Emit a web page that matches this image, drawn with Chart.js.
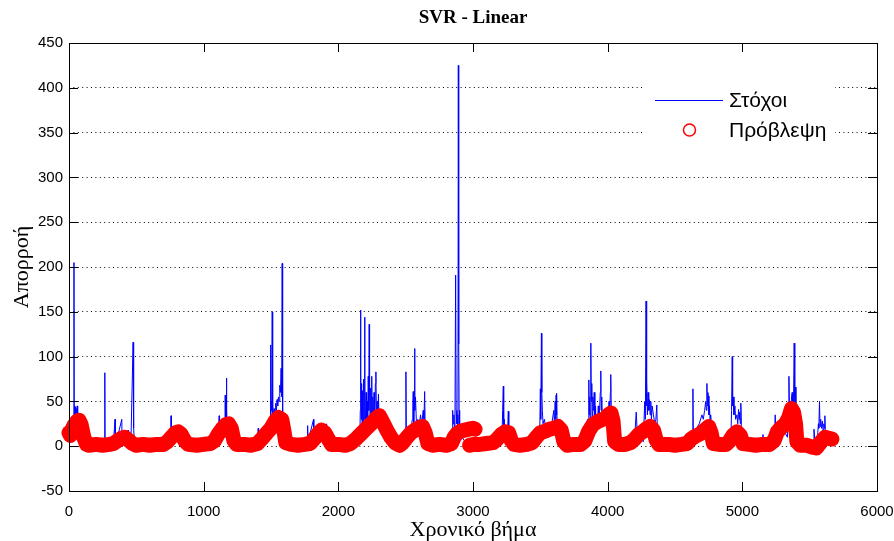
<!DOCTYPE html>
<html>
<head>
<meta charset="utf-8">
<title>SVR - Linear</title>
<script src="https://cdn.jsdelivr.net/npm/chart.js@4.4.1/dist/chart.umd.min.js"></script>
<style>
    html, body { margin: 0; padding: 0; background: #fff; }
</style>
</head>
<body>
<canvas id="svrChart" width="894" height="541"></canvas>
<script>
// tick labels
const xTicks = [0, 1000, 2000, 3000, 4000, 5000, 6000];
const yTicks = [-50, 0, 50, 100, 150, 200, 250, 300, 350, 400, 450];

// Στόχοι (targets), spikes and baseline
const targetX = [0, 20, 35, 37, 39, 41, 43, 45, 47, 49, 51, 53, 55, 57, 59, 61, 63, 66, 69, 72, 75, 78, 82, 86, 90, 95, 100, 130, 200,
    264, 266, 268, 330, 342, 344, 360, 392, 394, 420, 439, 441, 460, 476, 478, 482, 486, 560, 700, 757, 758, 760, 800, 830, 900,
    1050, 1110, 1115, 1118, 1150, 1155, 1158, 1160, 1163, 1166, 1168, 1170, 1173, 1176, 1180, 1190, 1200, 1230, 1400, 1405, 1408, 1460,
    1495, 1497, 1499, 1502, 1505, 1509, 1511, 1514, 1520, 1525, 1530, 1535, 1540, 1545, 1550, 1555, 1560, 1565, 1570, 1575, 1578, 1581, 1583, 1585, 1588, 1592, 1600, 1620,
    1770, 1772, 1775, 1816, 1818, 1900, 1913, 1920, 1950,
    2160, 2163, 2165, 2167, 2170, 2173, 2176, 2180, 2184, 2188, 2192, 2195, 2198, 2202, 2206, 2210, 2214, 2218, 2222, 2226, 2229, 2232, 2236, 2240, 2244, 2248, 2252, 2256, 2260, 2265, 2270, 2275, 2279, 2283, 2288, 2293, 2298, 2303, 2308, 2315, 2322, 2330, 2340, 2350, 2400,
    2498, 2502, 2505, 2520, 2540, 2550, 2553, 2556, 2560, 2563, 2566, 2569, 2573, 2580, 2590, 2600, 2610, 2620, 2630, 2636, 2641, 2645, 2650, 2660, 2800,
    2840, 2845, 2849, 2853, 2858, 2862, 2866, 2871, 2875, 2880, 2885, 2888, 2891, 2894, 2897, 2901, 2910, 2920, 2940, 3000,
    3200, 3215, 3220, 3225, 3228, 3232, 3240, 3250, 3258, 3262, 3266, 3275, 3300, 3480,
    3495, 3500, 3503, 3508, 3511, 3515, 3520, 3530, 3540, 3560, 3580, 3600, 3605, 3610, 3614, 3617, 3620, 3622, 3625, 3630, 3645, 3660, 3800,
    3845, 3850, 3855, 3860, 3863, 3866, 3870, 3875, 3878, 3882, 3886, 3890, 3895, 3900, 3905, 3910, 3915, 3920, 3925, 3930, 3935, 3940, 3945, 3949, 3952, 3956, 3960, 3970, 3980, 3990, 4000, 4005, 4010, 4015, 4020, 4023, 4027, 4032, 4040, 4060,
    4200, 4212, 4220, 4265, 4275, 4280, 4285, 4288, 4291, 4295, 4300, 4305, 4310, 4315, 4320, 4325, 4330, 4340, 4350, 4358, 4365, 4370, 4380, 4600,
    4630, 4633, 4636, 4650, 4660, 4680, 4700, 4710, 4720, 4728, 4733, 4737, 4740, 4744, 4748, 4752, 4756, 4760, 4765, 4775, 4900,
    4915, 4920, 4925, 4928, 4932, 4938, 4945, 4950, 4960, 4966, 4972, 4976, 4980, 4985, 4989, 4993, 5000, 5010,
    5150, 5153, 5160, 5240, 5244, 5250, 5300,
    5335, 5340, 5346, 5350, 5355, 5360, 5365, 5370, 5375, 5380, 5385, 5388, 5391, 5395, 5398, 5402, 5410, 5420, 5530, 5532, 5540,
    5555, 5560, 5565, 5568, 5573, 5577, 5582, 5588, 5595, 5600, 5605, 5610, 5613, 5617, 5625, 5640, 5660];
const targetY = [8, 5, 10, 205, 12, 45, 20, 40, 15, 44, 25, 38, 18, 42, 22, 45, 30, 40, 20, 35, 15, 30, 12, 25, 10, 8, 5, 3, 2,
    3, 82, 3, 4, 30, 6, 10, 30, 8, 12, 18, 8, 6, 116, 37, 20, 5, 2, 3, 5, 34, 6, 14, 8, 2,
    3, 10, 34, 12, 15, 30, 10, 57, 20, 45, 76, 25, 40, 15, 30, 10, 15, 3, 4, 20, 5, 10,
    30, 113, 35, 50, 40, 150, 30, 45, 35, 42, 38, 48, 40, 52, 45, 55, 50, 68, 60, 87, 55, 70, 204, 40, 35, 20, 8, 5,
    3, 23, 5, 30, 10, 20, 25, 10, 4,
    10, 40, 152, 85, 30, 70, 25, 62, 20, 75, 30, 144, 55, 25, 60, 20, 50, 30, 78, 40, 136, 60, 30, 65, 35, 78, 30, 55, 25, 60, 30, 70, 83, 35, 50, 30, 58, 25, 40, 20, 30, 15, 10, 5, 3,
    5, 83, 8, 15, 20, 30, 45, 61, 25, 50, 109, 40, 55, 25, 30, 20, 35, 25, 40, 30, 61, 20, 10, 5, 3,
    5, 20, 40, 25, 35, 20, 30, 191, 40, 25, 35, 20, 425, 114, 40, 25, 15, 10, 5, 2,
    3, 5, 40, 67, 20, 30, 10, 15, 20, 39, 10, 3, 2, 5,
    8, 64, 30, 126, 60, 40, 25, 30, 20, 15, 20, 40, 25, 50, 30, 57, 35, 59, 20, 30, 10, 5, 3,
    5, 30, 20, 74, 35, 55, 30, 115, 50, 70, 30, 55, 40, 60, 25, 45, 20, 35, 25, 45, 30, 40, 60, 84, 40, 55, 30, 35, 25, 30, 40, 30, 50, 35, 60, 80, 40, 30, 15, 5,
    8, 38, 15, 5, 50, 30, 162, 45, 73, 35, 60, 40, 52, 35, 50, 30, 45, 35, 25, 30, 46, 10, 3, 4,
    5, 64, 10, 15, 20, 25, 35, 30, 40, 50, 40, 70, 45, 60, 56, 35, 45, 30, 35, 8, 4,
    5, 40, 100, 45, 55, 35, 45, 30, 35, 25, 41, 30, 38, 25, 48, 20, 10, 3,
    3, 13, 3, 10, 35, 8, 20,
    10, 30, 78, 40, 50, 35, 55, 60, 40, 50, 115, 45, 55, 66, 30, 25, 10, 3, 5, 19, 5,
    5, 15, 25, 20, 50, 22, 30, 20, 28, 15, 25, 20, 34, 12, 8, 6, 5];

// Πρόβλεψη (prediction) - null marks the break near step 3000
const predX = [0, 10, 20, 40, 60, 75, 90, 110, 130, 150, 200, 250, 300, 330, 360, 390, 414, 440, 470, 500, 550, 600, 650, 700, 730, 760, 790, 810, 830, 860, 885, 950,
    1000, 1050, 1080, 1110, 1140, 1165, 1185, 1205, 1225, 1245, 1300, 1350, 1400, 1430, 1470, 1500, 1530, 1555, 1580, 1595, 1610, 1650, 1700, 1750, 1790, 1820, 1850, 1875, 1900, 1925, 1950,
    2000, 2050, 2090, 2130, 2170, 2210, 2250, 2280, 2305, 2330, 2360, 2390, 2420, 2455, 2480, 2510, 2540, 2570, 2600, 2625, 2645, 2665, 2700, 2750, 2800, 2840, 2860, 2880, 2910, 2940, 2970, 3000, 3015,
    3010, 2975, 3000, 3050, 3100, 3150, 3180, 3210, 3240, 3265, 3285, 3305, 3350, 3400, 3440, 3470, 3500, 3540, 3570, 3600, 3630, 3655, 3675, 3700, 3750, 3800, 3830, 3860, 3890, 3920, 3950, 3980,
    4005, 4025, 4040, 4052, 4080, 4130, 4170, 4200, 4230, 4260, 4290, 4315, 4340, 4360, 4380, 4450, 4500, 4550, 4590, 4620, 4650, 4690, 4720, 4750, 4768, 4785, 4830, 4880, 4905, 4930, 4960, 4985,
    5005, 5050, 5100, 5150, 5200, 5235, 5260, 5290, 5320, 5345, 5365, 5380, 5395, 5405, 5430, 5480, 5520, 5550, 5570, 5590, 5615, 5640, 5665];
const predY = [15, 12, 18, 24, 28, 29, 24, 10, 2, 1, 2, 1, 2, 3, 6, 9, 10, 7, 3, 1, 2, 1, 2, 2, 5, 10, 15, 16, 14, 6, 2, 1,
    2, 3, 6, 14, 20, 24, 25, 20, 6, 2, 2, 1, 3, 8, 15, 20, 28, 32, 30, 18, 4, 2, 1, 2, 3, 8, 14, 18, 15, 8, 2,
    2, 1, 3, 8, 14, 20, 26, 31, 34, 27, 18, 10, 4, 1, 4, 10, 15, 18, 21, 22, 15, 3, 1, 2, 1, 3, 10, 14, 17, 18, 19, 20, 19,
    null, 1, 2, 2, 3, 4, 8, 13, 16, 15, 6, 2, 1, 2, 4, 10, 15, 17, 19, 20, 22, 18, 5, 1, 2, 2, 6, 17, 24, 27, 29, 31,
    35, 37, 28, 5, 2, 2, 4, 8, 13, 16, 20, 22, 18, 7, 2, 2, 1, 2, 3, 8, 11, 14, 18, 22, 15, 3, 2, 2, 6, 12, 16, 12,
    3, 2, 1, 2, 2, 6, 16, 21, 25, 32, 42, 38, 25, 5, 1, 1, -1, -2, 2, 6, 10, 9, 8];

const toPoints = (xs, ys) => xs.map((x, i) => ({ x: x, y: ys[i] }));

const tickFont = { family: 'Liberation Sans', size: 15 };

// frame, inward ticks and the legend, drawn the way the original figure does
const figureBits = {
    id: 'figureBits',
    afterDatasetsDraw(chart) {
        const { ctx, chartArea: a, scales } = chart;
        const tl = 9;
        ctx.save();
        ctx.strokeStyle = '#000';
        ctx.lineWidth = 1;
        ctx.beginPath();
        xTicks.forEach(v => {
            const px = Math.round(scales.x.getPixelForValue(v)) + 0.5;
            ctx.moveTo(px, a.bottom); ctx.lineTo(px, a.bottom - tl);
            ctx.moveTo(px, a.top); ctx.lineTo(px, a.top + tl);
        });
        yTicks.forEach(v => {
            const py = Math.round(scales.y.getPixelForValue(v)) + 0.5;
            ctx.moveTo(a.left, py); ctx.lineTo(a.left + tl, py);
            ctx.moveTo(a.right, py); ctx.lineTo(a.right - tl, py);
        });
        ctx.stroke();
        ctx.strokeRect(Math.round(a.left) + 0.5, Math.round(a.top) + 0.5, Math.round(a.right - a.left), Math.round(a.bottom - a.top));

        // legend
        ctx.fillStyle = '#fff';
        ctx.fillRect(645, 80, 190, 66);
        ctx.strokeStyle = '#0000ff';
        ctx.beginPath();
        ctx.moveTo(655, 100.5); ctx.lineTo(723, 100.5);
        ctx.stroke();
        ctx.strokeStyle = '#ff0000';
        ctx.lineWidth = 1.5;
        ctx.beginPath();
        ctx.arc(689.5, 130, 6, 0, Math.PI * 2);
        ctx.stroke();
        ctx.fillStyle = '#000';
        ctx.font = '21px "Liberation Sans"';
        ctx.textBaseline = 'middle';
        ctx.fillText('Στόχοι', 729, 101);
        ctx.fillText('Πρόβλεψη', 729, 131);
        ctx.restore();
    }
};

new Chart(document.getElementById('svrChart'), {
    type: 'line',
    data: {
        datasets: [{
            label: 'Πρόβλεψη',
            data: toPoints(predX, predY),
            borderColor: '#ff0000',
            backgroundColor: '#ff0000',
            borderWidth: 15,
            borderJoinStyle: 'round',
            borderCapStyle: 'round',
            pointRadius: 0,
            spanGaps: false,
            clip: 10,
            order: 0
        }, {
            label: 'Στόχοι',
            data: toPoints(targetX, targetY),
            borderColor: '#0000ff',
            borderWidth: 1,
            pointRadius: 0,
            order: 1
        }]
    },
    options: {
        responsive: false,
        animation: false,
        layout: { padding: { left: 0, right: 17, top: 0, bottom: 0 } },
        plugins: {
            legend: { display: false },
            tooltip: { enabled: false },
            title: {
                display: true,
                fullSize: false,
                text: 'SVR - Linear',
                color: '#000',
                font: { family: 'Liberation Serif', size: 19, weight: 'bold', lineHeight: 1.2 },
                padding: { top: 7, bottom: 13.2 }
            }
        },
        scales: {
            x: {
                type: 'linear',
                min: 0,
                max: 6000,
                afterBuildTicks: s => { s.ticks = xTicks.map(v => ({ value: v })); },
                afterFit: s => { s.height = 50; s.paddingLeft = 0; s.paddingRight = 0; },
                grid: { display: false },
                border: { display: false },
                ticks: { color: '#000', font: tickFont, padding: 4, maxRotation: 0, callback: v => String(v) },
                title: {
                    display: true,
                    text: 'Χρονικό βήμα',
                    color: '#000',
                    font: { family: 'Liberation Serif', size: 22, lineHeight: 1 },
                    padding: { top: 0, bottom: 0 }
                }
            },
            y: {
                min: -50,
                max: 450,
                afterBuildTicks: s => { s.ticks = yTicks.map(v => ({ value: v })); },
                afterFit: s => { s.width = 69; s.paddingTop = 0; s.paddingBottom = 0; },
                grid: { color: '#000', lineWidth: 1, drawTicks: false },
                border: { display: false, dash: [1, 3.4] },
                ticks: { color: '#000', font: tickFont, padding: 6, callback: v => String(v) },
                title: {
                    display: true,
                    text: 'Απορροή',
                    color: '#000',
                    font: { family: 'Liberation Serif', size: 22, lineHeight: 1 },
                    padding: { top: 11, bottom: 0 }
                }
            }
        }
    },
    plugins: [figureBits]
});
</script>
</body>
</html>
